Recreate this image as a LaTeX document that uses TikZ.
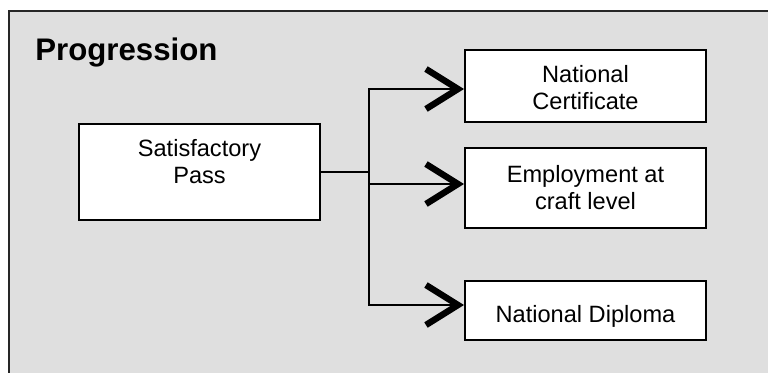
\documentclass[tikz,border=0pt]{standalone}
\usepackage{fontspec}
\setmainfont{Liberation Sans}
\usetikzlibrary{positioning,arrows.meta}
\definecolor{panelgray}{HTML}{DFDFDF}
\tikzset{
  box/.style={draw=black,fill=white,line width=1pt,minimum width=120.5pt,inner sep=0pt},
  boxtext/.style={align=center,inner sep=0pt,font=\fontsize{11.8}{13.5}\selectfont},
  wire/.style={line width=1.1pt},
  link/.style={wire,-{Straight Barb[length=16pt,width=20pt,line width=3.2pt]}},
}
\begin{document}
\begin{tikzpicture}[x=0.5pt,y=-0.5pt]
 \clip (0,0) rectangle (768,372);
 \fill[white] (0,0) rectangle (768,372);
 \draw[fill=panelgray,draw=black!85,line width=1.3pt] (9,11) rectangle (800,400);
 \node[anchor=base west,inner sep=0pt,font=\fontsize{15.6}{18}\selectfont\bfseries] (title) at (35,60) {Progression};
 \node[box,minimum height=48pt] (pass) at (199.5,172) {};
 \node[box,minimum height=36pt] (cert) at (585.5,86) {};
 \node[box,minimum height=40pt] (craft) at (585.5,188) {};
 \node[box,minimum height=29.5pt] (diploma) at (585.5,310.5) {};
 \node[boxtext,below=7.75pt of pass.north] (passtext) {Satisfactory\\Pass};
 \node[boxtext,below=7.75pt of cert.north] (certtext) {National\\Certificate};
 \node[boxtext,below=8.75pt of craft.north] (crafttext) {Employment at\\craft level};
 \node[boxtext,below=12.5pt of diploma.north] (diplomatext) {National Diploma};
 \coordinate (split) at (369,172);
 \draw[wire] (pass.east) -- (split);
 \draw[link] (split) |- ([yshift=-1.5pt]cert.west);
 \draw[link] (split) |- ([yshift=2pt]craft.west);
 \draw[link] (split) |- ([yshift=2.75pt]diploma.west);
\end{tikzpicture}
\end{document}
